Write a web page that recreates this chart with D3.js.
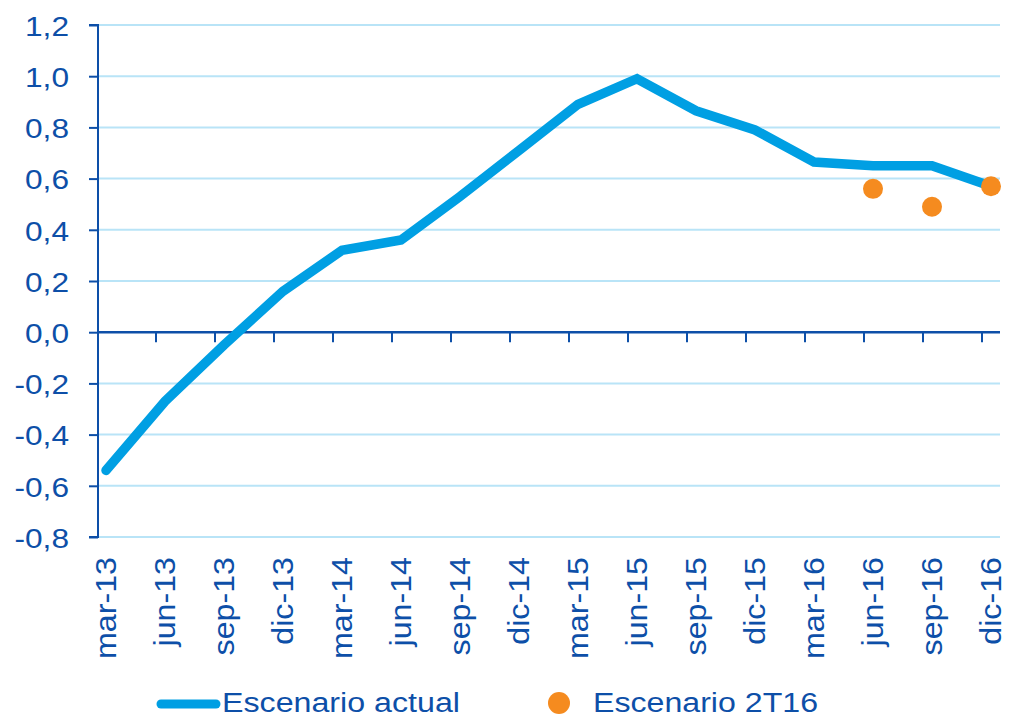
<!DOCTYPE html>
<html><head><meta charset="utf-8">
<script src="https://cdn.jsdelivr.net/npm/d3@7"></script>
<style>body{margin:0;background:#fff}svg{display:block}text{font-family:"Liberation Sans",Arial,sans-serif}</style>
</head><body><svg id="c" width="1009" height="717"></svg>
<script>
const categories = ["mar-13","jun-13","sep-13","dic-13","mar-14","jun-14","sep-14","dic-14","mar-15","jun-15","sep-15","dic-15","mar-16","jun-16","sep-16","dic-16"];
const actual = [-0.54,-0.27,-0.05,0.16,0.32,0.36,0.53,0.71,0.89,0.99,0.865,0.79,0.665,0.65,0.65,0.57];
const esc2T16 = [null,null,null,null,null,null,null,null,null,null,null,null,null,0.56,0.49,0.57];
const yTicks = [-0.8,-0.6,-0.4,-0.2,0,0.2,0.4,0.6,0.8,1.0,1.2];
const seriesNames = ["Escenario actual","Escenario 2T16"];

const C_TEXT="#0D4FA8", C_GRID="#B9E4F7", C_LINE="#009FE3", C_ORANGE="#F58B1F";
const svg=d3.select("#c");
const x=d3.scaleLinear().domain([0,categories.length-1]).range([106,991]);
const y=d3.scaleLinear().domain([-0.8,1.2]).range([537,25]);
const left=98,right=1000;
const fmt=v=>d3.format(".1f")(v).replace(".",",").replace("−","-");

// gridlines
svg.append("g").selectAll("line").data(yTicks.filter(v=>v!==0)).join("line")
 .attr("x1",left).attr("x2",right).attr("y1",d=>y(d)).attr("y2",d=>y(d))
 .attr("stroke",C_GRID).attr("stroke-width",2);

// y axis
const ya=svg.append("g").attr("transform",`translate(${left},0)`)
 .call(d3.axisLeft(y).tickValues(yTicks).tickSize(9).tickPadding(20).tickFormat(fmt));
ya.select(".domain").attr("stroke",C_TEXT).attr("stroke-width",2).attr("d",`M-9,${y(1.2)}H0V${y(-0.8)}H-9`);
ya.selectAll(".tick line").attr("stroke",C_TEXT).attr("stroke-width",2);
ya.selectAll(".tick text").attr("fill",C_TEXT).attr("font-size",28).attr("x",-29).attr("dy","0.37em")
 .each(function(){const l=this.getComputedTextLength();d3.select(this).attr("textLength",l*1.13).attr("lengthAdjust","spacingAndGlyphs");});

// zero line with ticks
const z=y(0);
svg.append("line").attr("x1",left).attr("x2",right).attr("y1",z).attr("y2",z).attr("stroke",C_TEXT).attr("stroke-width",2.5);
svg.append("g").selectAll("line").data(d3.range(1,categories.length)).join("line")
 .attr("x1",d=>x(d)-9).attr("x2",d=>x(d)-9).attr("y1",z).attr("y2",z+10)
 .attr("stroke",C_TEXT).attr("stroke-width",2);

// x labels
svg.append("g").selectAll("text").data(categories).join("text")
 .attr("transform",(d,i)=>`translate(${x(i)},557) rotate(-90)`)
 .attr("text-anchor","end").attr("dy","0.36em").attr("fill",C_TEXT).attr("font-size",29).text(d=>d)
 .each(function(){const l=this.getComputedTextLength();d3.select(this).attr("textLength",l*1.11).attr("lengthAdjust","spacingAndGlyphs");});

// line
svg.append("path").datum(actual).attr("fill","none").attr("stroke",C_LINE).attr("stroke-width",9.5)
 .attr("stroke-linejoin","miter").attr("stroke-linecap","round")
 .attr("d",d3.line().x((d,i)=>x(i)).y(d=>y(d)));

// dots
svg.append("g").selectAll("circle").data(esc2T16.map((v,i)=>({v,i})).filter(d=>d.v!==null)).join("circle")
 .attr("cx",d=>x(d.i)).attr("cy",d=>y(d.v)).attr("r",10).attr("fill",C_ORANGE);

// legend
const lg=svg.append("g");
lg.append("line").attr("x1",161).attr("x2",216).attr("y1",704).attr("y2",704).attr("stroke",C_LINE).attr("stroke-width",9).attr("stroke-linecap","round");
lg.append("text").attr("x",222).attr("y",712).attr("fill",C_TEXT).attr("font-size",27).text(seriesNames[0]).attr("textLength",238).attr("lengthAdjust","spacingAndGlyphs");
lg.append("circle").attr("cx",559).attr("cy",703).attr("r",11).attr("fill",C_ORANGE);
lg.append("text").attr("x",593).attr("y",712).attr("fill",C_TEXT).attr("font-size",27).text(seriesNames[1]).attr("textLength",225).attr("lengthAdjust","spacingAndGlyphs");
</script></body></html>
